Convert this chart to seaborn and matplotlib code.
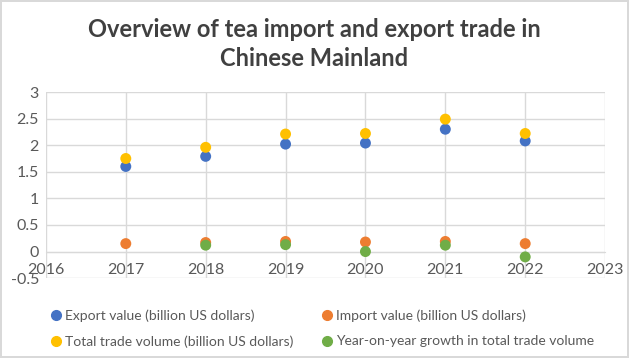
import numpy as np
import pandas as pd
import matplotlib
matplotlib.use("Agg")
import matplotlib.pyplot as plt
import seaborn as sns

years = [2017, 2018, 2019, 2020, 2021, 2022]
export_value = [1.60, 1.79, 2.02, 2.04, 2.30, 2.08]
import_value = [0.15, 0.17, 0.19, 0.18, 0.19, 0.15]
total_volume = [1.75, 1.96, 2.21, 2.22, 2.49, 2.22]
yoy_growth = [np.nan, 0.12, 0.13, 0.00, 0.12, -0.10]

series_names = [
    "Export value (billion US dollars)",
    "Import value (billion US dollars)",
    "Total trade volume (billion US dollars)",
    "Year-on-year growth in total trade volume",
]
colors = ["#4472C4", "#ED7D31", "#FFC000", "#70AD47"]

df = pd.concat([
    pd.DataFrame({"year": years, "value": vals, "series": name})
    for name, vals in zip(series_names, [export_value, import_value, total_volume, yoy_growth])
]).dropna()

sns.set_style("white")
plt.rcParams["font.family"] = ["Lato", "DejaVu Sans"]

fig = plt.figure(figsize=(6.29, 3.58), dpi=100)
fig.patch.set_edgecolor("#d9d9d9")
fig.patch.set_linewidth(1.5)
ax = fig.add_axes([0.073, 0.223, 0.889, 0.52])

sns.scatterplot(data=df, x="year", y="value", hue="series", hue_order=series_names,
                palette=colors, s=62, edgecolor="none", ax=ax, zorder=3)

ax.set_xlim(2016, 2023)
ax.set_ylim(-0.5, 3)
ax.set_xticks(range(2016, 2024))
ax.set_yticks(np.arange(-0.5, 3.01, 0.5))
ax.set_yticklabels(["-0.5", "0", "0.5", "1", "1.5", "2", "2.5", "3"])
ax.grid(True, color="#d9d9d9", linewidth=1)
ax.set_axisbelow(True)
for side in ["top", "right", "left"]:
    ax.spines[side].set_visible(False)
ax.spines["bottom"].set_position(("data", 0))
ax.spines["bottom"].set_color("#d9d9d9")
ax.tick_params(axis="both", length=0, labelsize=11.5, colors="#595959")
ax.tick_params(axis="x", pad=8)
ax.tick_params(axis="y", pad=5)
ax.set_xlabel("")
ax.set_ylabel("")

fig.text(0.5, 0.878, "Overview of tea import and export trade in\nChinese Mainland",
         ha="center", va="center", fontsize=17, fontweight="bold", color="#404040",
         linespacing=1.3)

# row-wise order like the original legend
ax.legend_.remove()
order = [0, 2, 1, 3]
handles = [plt.Line2D([], [], marker="o", linestyle="", color=colors[i], markersize=7) for i in order]
labels = [series_names[i] for i in order]
fig.legend(handles, labels, loc="upper left", bbox_to_anchor=(0.058, 0.17),
           ncol=2, frameon=False, fontsize=10, labelcolor="#595959",
           handletextpad=0.15, columnspacing=1.9, labelspacing=0.95, handlelength=1.0)

fig.savefig("out.png", dpi=100, edgecolor=fig.get_edgecolor())
